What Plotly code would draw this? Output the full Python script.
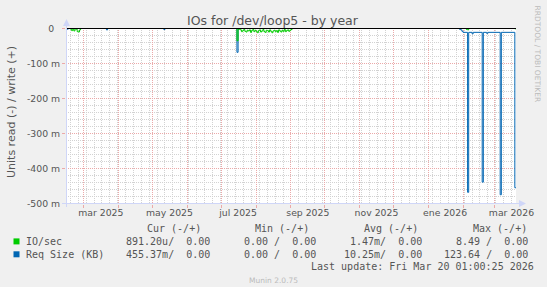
import plotly.graph_objects as go

# ---------------- data ----------------
range_start = "2025-02-13 01:00:25"
range_end = "2026-03-20 01:00:25"

# IO/sec (read, shown negative) - step change points
io_dates = [
    "2025-02-13", "2025-02-17", "2025-02-18", "2025-02-19", "2025-02-20", "2025-02-21",
    "2025-02-22", "2025-02-23", "2025-02-24", "2025-02-25", "2025-02-26",
    "2025-07-15", "2025-07-16", "2025-07-17", "2025-07-18", "2025-07-19", "2025-07-20",
    "2025-07-21", "2025-07-22", "2025-07-23", "2025-07-24", "2025-07-25", "2025-07-26",
    "2025-07-27", "2025-07-28", "2025-07-29", "2025-07-30", "2025-07-31", "2025-08-01",
    "2025-08-02", "2025-08-03", "2025-08-04", "2025-08-05", "2025-08-06", "2025-08-07",
    "2025-08-08", "2025-08-09", "2025-08-10", "2025-08-11", "2025-08-12", "2025-08-13",
    "2025-08-14", "2025-08-15", "2025-08-16", "2025-08-17", "2025-08-18", "2025-08-19",
    "2025-08-20", "2025-08-21", "2025-08-22", "2025-08-23", "2025-08-24", "2025-08-25",
    "2025-08-26", "2025-08-27", "2025-08-28", "2025-08-29", "2025-08-30", "2025-08-31",
    "2025-09-01", "2025-09-02",
    "2026-02-04", "2026-02-05", "2026-02-06", "2026-03-19", "2026-03-20",
]
io_values = [
    0, -0.002, -0.006, -0.002, -0.007, -0.001,
    -0.002, -0.009, -0.010, -0.004, 0,
    -0.035, -0.003, -0.002, -0.004, -0.009, -0.006,
    -0.003, -0.008, -0.010, -0.005, -0.007, -0.004,
    -0.011, -0.006, -0.003, -0.009, -0.005, -0.008,
    -0.012, -0.006, -0.004, -0.010, -0.007, -0.003,
    -0.009, -0.011, -0.005, -0.006, -0.010, -0.004,
    -0.008, -0.012, -0.007, -0.005, -0.009, -0.006,
    -0.011, -0.004, -0.007, -0.010, -0.005, -0.008,
    -0.003, -0.009, -0.006, -0.004, -0.008, -0.005,
    -0.003, 0,
    -0.003, -0.004, 0, -0.0009, -0.00089,
]

# Req Size (KB) (read, shown negative) - step change points
req_dates = [
    "2025-02-13", "2025-02-14", "2025-02-15", "2025-03-21", "2025-03-22",
    "2025-05-11", "2025-05-12", "2025-07-15", "2025-07-16",
    "2026-01-29", "2026-01-30", "2026-01-31", "2026-02-01", "2026-02-05", "2026-02-06",
    "2026-02-09", "2026-02-10", "2026-02-18", "2026-02-19", "2026-02-22", "2026-02-23",
    "2026-03-06", "2026-03-07", "2026-03-19", "2026-03-20",
]
req_values = [
    0, -0.002, 0, -0.004, 0,
    -0.003, 0, -0.068, 0,
    -0.003, -0.004, -0.008, -0.011, -0.468, -0.011,
    -0.015, -0.011, -0.439, -0.011, -0.014, -0.011,
    -0.475, -0.011, -0.455, -0.45537,
]

xtick_vals = ["2025-03-16", "2025-05-16", "2025-07-16", "2025-09-16",
              "2025-11-16", "2026-01-16", "2026-03-16"]
xtick_text = ["mar 2025", "may 2025", "jul 2025", "sep 2025",
              "nov 2025", "ene 2026", "mar 2026"]
month_starts = ["2025-03-01", "2025-04-01", "2025-05-01", "2025-06-01", "2025-07-01",
                "2025-08-01", "2025-09-01", "2025-10-01", "2025-11-01", "2025-12-01",
                "2026-01-01", "2026-02-01", "2026-03-01"]
ytick_vals = [-0.5, -0.4, -0.3, -0.2, -0.1, 0]
ytick_text = ["-500 m", "-400 m", "-300 m", "-200 m", "-100 m", "0\u00a0\u00a0"]
y_min, y_max = -0.5, 0.0

title_text = "IOs for /dev/loop5 - by year"
ytitle_text = "Units read (-) / write (+)"
series_names = ["IO/sec", "Req Size (KB)"]
series_colors = ["#00CC00", "#0066B3"]
headers = ["Cur (-/+)", "Min (-/+)", "Avg (-/+)", "Max (-/+)"]
stats = [
    ["891.20u/\u00a0\u00a00.00", "0.00 /\u00a0\u00a00.00", "1.47m/\u00a0\u00a00.00", "8.49 /\u00a0\u00a00.00"],
    ["455.37m/\u00a0\u00a00.00", "0.00 /\u00a0\u00a00.00", "10.25m/\u00a0\u00a00.00", "123.64 /\u00a0\u00a00.00"],
]
last_update = "Last update: Fri Mar 20 01:00:25 2026"
footer = "Munin 2.0.75"
side_text = "RRDTOOL / TOBI OETIKER"

# ---------------- layout helpers ----------------
# plot area pixels: 66..516 wide, 28..204 tall (data 0 -> row 28 centre, -0.5 -> row 203 centre)
L, R, T, B = 66, 516, 28, 204
W, H = R - L, B - T
pad_y = 0.5 * (y_max - y_min) / (H - 1)


def px(x):
    return (x - L) / W


def py(y):
    return (B - y) / H


RED = "#EBA9A9"
GREY = "#D2D2D2"
AXIS = "#CFD6F8"
TXT = "#555555"

fig = go.Figure()
fig.add_trace(go.Scatter(x=req_dates, y=req_values, mode="lines", line_shape="hv",
                         line=dict(color=series_colors[1], width=1), hoverinfo="skip"))
fig.add_trace(go.Scatter(x=io_dates, y=io_values, mode="lines", line_shape="hv",
                         line=dict(color=series_colors[0], width=1), hoverinfo="skip"))
fig.add_trace(go.Scatter(x=[], y=[], xaxis="x2", yaxis="y", hoverinfo="skip"))

fig.update_layout(
    width=547, height=287,
    margin=dict(l=L, r=547 - R, t=T, b=287 - B, pad=0),
    paper_bgcolor="#F0F0F0", plot_bgcolor="#FFFFFF",
    showlegend=False,
    xaxis=dict(type="date", range=[range_start, range_end], tickmode="array",
               tickvals=xtick_vals, ticktext=xtick_text, showgrid=False, zeroline=False,
               showline=False, ticks="", ticklen=0, ticklabelstandoff=2,
               tickfont=dict(family="DejaVu Sans", size=9.3, color=TXT)),
    xaxis2=dict(type="date", overlaying="x", matches="x", range=[range_start, range_end],
                tickmode="array", tickvals=month_starts, showticklabels=False,
                showgrid=True, gridcolor=RED, griddash="1px,1px", gridwidth=1,
                ticks="outside", ticklen=3, tickcolor=RED, zeroline=False, showline=False,
                minor=dict(tickmode="linear", tick0="2025-02-17", dtick=7 * 86400000,
                           showgrid=True, gridcolor=GREY, griddash="1px,1px", gridwidth=1)),
    yaxis=dict(range=[y_min - pad_y, y_max + pad_y], tickmode="array", tickvals=ytick_vals,
               ticktext=ytick_text,
               showgrid=True, gridcolor=RED, griddash="1px,1px", gridwidth=1,
               ticks="outside", ticklen=3, tickcolor=RED, zeroline=False, showline=False,
               tickfont=dict(family="DejaVu Sans", size=9.3, color=TXT),
               minor=dict(tickmode="linear", tick0=0, dtick=0.02, showgrid=True,
                          gridcolor=GREY, griddash="1px,1px", gridwidth=1)),
)

shapes = []
# zero line
shapes.append(dict(type="line", xref="paper", yref="y", x0=0, x1=1, y0=0, y1=0,
                   line=dict(color="#000000", width=1), layer="above"))
# axis lines + arrows
shapes.append(dict(type="line", xref="paper", yref="paper", x0=px(62), x1=px(521),
                   y0=py(203.5), y1=py(203.5), line=dict(color=AXIS, width=1), layer="above"))
shapes.append(dict(type="line", xref="paper", yref="paper", x0=px(66.5), x1=px(66.5),
                   y0=py(207), y1=py(24), line=dict(color=AXIS, width=1), layer="above"))
shapes.append(dict(type="path", xref="paper", yref="paper",
                   path=f"M {px(526)} {py(203.5)} L {px(519)} {py(200)} L {px(519)} {py(207)} Z",
                   fillcolor=AXIS, line=dict(width=0), layer="above"))
shapes.append(dict(type="path", xref="paper", yref="paper",
                   path=f"M {px(66.5)} {py(19)} L {px(63)} {py(26)} L {px(70)} {py(26)} Z",
                   fillcolor=AXIS, line=dict(width=0), layer="above"))
# legend squares
for i, c in enumerate(series_colors):
    yc = 241.4 + i * 12.9
    shapes.append(dict(type="rect", xref="paper", yref="paper",
                       x0=px(13.5), x1=px(19.5), y0=py(yc - 3), y1=py(yc + 3),
                       fillcolor=c, line=dict(width=0)))
fig.update_layout(shapes=shapes)

ann = []


def add_text(text, x, y, xanchor="left", size=10, family="DejaVu Sans Mono", color=TXT,
             angle=0):
    ann.append(dict(text=text, x=px(x), y=py(y), xref="paper", yref="paper",
                    xanchor=xanchor, yanchor="middle", showarrow=False,
                    font=dict(family=family, size=size, color=color),
                    borderpad=0, borderwidth=0, textangle=angle))


add_text(title_text, 273, 20, "center", 12.5, "DejaVu Sans", "#555555")
add_text(ytitle_text, 11.5, 112.5, "center", 11, "DejaVu Sans", TXT, -90)
add_text(side_text, 537, 53.5, "center", 7.5, "DejaVu Sans", "#BBBBBB", 90)
add_text(footer, 273, 280, "center", 7.5, "DejaVu Sans", "#BBBBBB")

header_right = [200.5, 309.2, 418.2, 527.0]
value_right = [210.0, 315.8, 421.8, 527.8]
for h, xr in zip(headers, header_right):
    add_text(h.replace(" ", "\u00a0"), xr, 228.8, "right")
for i, name in enumerate(series_names):
    yc = 241.4 + i * 12.9
    add_text(name.replace(" ", "\u00a0"), 26, yc, "left")
    for s, xr in zip(stats[i], value_right):
        add_text(s, xr, yc, "right")
add_text(last_update.replace(" ", "\u00a0"), 533.8, 266.9, "right")

fig.update_layout(annotations=ann)
fig.write_html("out.html")
